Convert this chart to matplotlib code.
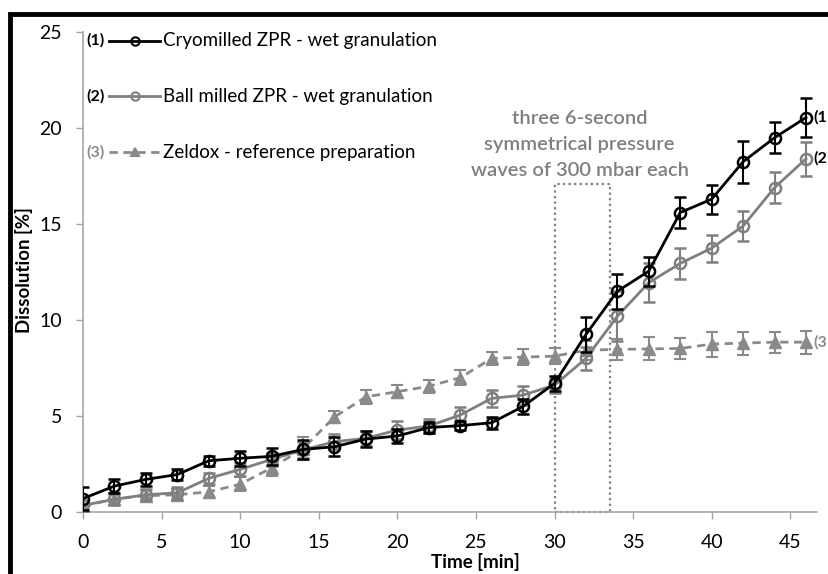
import matplotlib
matplotlib.use("Agg")
import matplotlib.pyplot as plt
from matplotlib.patches import Rectangle

time = [0, 2, 4, 6, 8, 10, 12, 14, 16, 18, 20, 22, 24, 26, 28, 30, 32, 34, 36, 38, 40, 42, 44, 46]
cryo = [0.7, 1.35, 1.7, 1.95, 2.67, 2.8, 2.9, 3.26, 3.4, 3.8, 3.96, 4.4, 4.5, 4.65, 5.5, 6.7, 9.25, 11.5, 12.55, 15.6, 16.3, 18.25, 19.5, 20.55]
cryo_err = [0.6, 0.35, 0.35, 0.3, 0.25, 0.4, 0.45, 0.5, 0.5, 0.4, 0.35, 0.3, 0.25, 0.3, 0.4, 0.4, 0.9, 0.9, 0.75, 0.8, 0.75, 1.1, 0.8, 1.0]
ball = [0.35, 0.66, 0.9, 1.0, 1.75, 2.22, 2.74, 3.23, 3.66, 3.84, 4.27, 4.48, 5.05, 5.92, 6.09, 6.61, 8.0, 10.2, 11.95, 12.95, 13.75, 14.9, 16.9, 18.4]
ball_err = [0.3, 0.3, 0.3, 0.3, 0.3, 0.35, 0.35, 0.4, 0.4, 0.4, 0.45, 0.35, 0.4, 0.45, 0.5, 0.4, 0.6, 1.3, 1.0, 0.8, 0.7, 0.8, 0.8, 0.9]
zeldox = [0.3, 0.68, 0.85, 0.9, 1.05, 1.45, 2.3, 3.3, 4.95, 6.0, 6.27, 6.55, 7.0, 8.0, 8.07, 8.12, 8.43, 8.47, 8.5, 8.52, 8.75, 8.8, 8.85, 8.85]
zeldox_err = [0.3, 0.3, 0.3, 0.3, 0.3, 0.35, 0.4, 0.6, 0.3, 0.35, 0.35, 0.35, 0.4, 0.35, 0.4, 0.4, 0.5, 0.55, 0.6, 0.55, 0.65, 0.6, 0.55, 0.6]

legend_tags = ["(1)", "(2)", "(3)"]
legend_labels = ["Cryomilled ZPR - wet granulation", "Ball milled ZPR - wet granulation", "Zeldox - reference preparation"]
end_tags = ["(1", "(2", "(3"]
annotation = "three 6-second\nsymmetrical pressure\nwaves of 300 mbar each"

plt.rcParams['font.family'] = ['Lato', 'DejaVu Sans']

fig = plt.figure(figsize=(8.29, 5.74), dpi=100)
ax = fig.add_axes([0.1001, 0.108, 0.8854, 0.836])

black = '#000000'
gray2 = '#7f7f7f'
gray3 = '#8a8a8a'

ax.errorbar(time, cryo, yerr=cryo_err, color=black, lw=2, marker='o', ms=8,
            mfc='none', mec=black, mew=1.8, capsize=4, elinewidth=1.5, capthick=1.5, zorder=5)
ax.errorbar(time, ball, yerr=ball_err, color=gray2, lw=2, marker='o', ms=8,
            mfc='none', mec=gray2, mew=1.8, capsize=4, elinewidth=1.5, capthick=1.5, zorder=4)
ax.errorbar(time, zeldox, yerr=zeldox_err, color=gray3, lw=2, ls=(0, (3, 2)), marker='^', ms=8,
            mfc=gray3, mec=gray3, capsize=4, elinewidth=1.5, capthick=1.5, zorder=3)

ax.set_xlim(0, 46.7)
ax.set_ylim(0, 25)
ax.set_xticks(range(0, 50, 5))
ax.set_yticks(range(0, 30, 5))

for s in ['top', 'right']:
    ax.spines[s].set_visible(False)
for s in ['left', 'bottom']:
    ax.spines[s].set_color('#a6a6a6')
    ax.spines[s].set_linewidth(1.2)
ax.tick_params(axis='both', direction='out', length=5, width=1, color='#a6a6a6',
               labelsize=14)
ax.tick_params(axis='x', pad=11)
ax.tick_params(axis='y', pad=10)

ax.set_xlabel("Time [min]", fontsize=13.5, fontweight='bold')
ax.set_ylabel("Dissolution [%]", fontsize=13.5, fontweight='bold')
ax.xaxis.set_label_coords(0.534, -0.085)
ax.yaxis.set_label_coords(-0.068, 0.504)

# dotted box marking the pressure waves
ax.add_patch(Rectangle((30, 0), 3.5, 17.1, fill=False, ls=(0, (1, 1.5)), lw=1.6,
                       ec='#7f7f7f', zorder=2, clip_on=False))
ax.text(31.6, 19.15, annotation, ha='center', va='center', fontsize=14.5,
        color='#7f7f7f', fontweight='semibold', linespacing=1.65)

# legend drawn manually
leg_y = [24.55, 21.65, 18.75]
leg_colors = [black, gray2, gray3]
leg_styles = ['-', '-', (0, (3, 2))]
leg_markers = ['o', 'o', '^']
for i in range(3):
    ax.text(0.2, leg_y[i], legend_tags[i], fontsize=11.5, fontweight='bold',
            color=leg_colors[i] if i == 2 else black, va='center', ha='left')
    ax.plot([1.65, 4.9], [leg_y[i], leg_y[i]], color=leg_colors[i], lw=2, ls=leg_styles[i], clip_on=False)
    ax.plot([3.3], [leg_y[i]], marker=leg_markers[i], ms=6,
            mfc='none' if i < 2 else leg_colors[i], mec=leg_colors[i], mew=1.5)
    ax.text(5.1, leg_y[i], legend_labels[i], fontsize=13.5, color=black, va='center', ha='left')

# end labels
end_vals = [cryo[-1], ball[-1], zeldox[-1]]
end_colors = [black, black, gray3]
for i in range(3):
    ax.text(46.45, end_vals[i], end_tags[i], fontsize=11.5, fontweight='bold', color=end_colors[i],
            va='center', ha='left', clip_on=False)

# thick frame (image is cropped, so only left and top visible)
fig.patches.append(Rectangle((10.5 / 829, -0.1), 1.2, 1.1 - 14 / 574, transform=fig.transFigure,
                             fill=False, ec='black', lw=3.5, zorder=10))

fig.savefig("out.png", dpi=100)
